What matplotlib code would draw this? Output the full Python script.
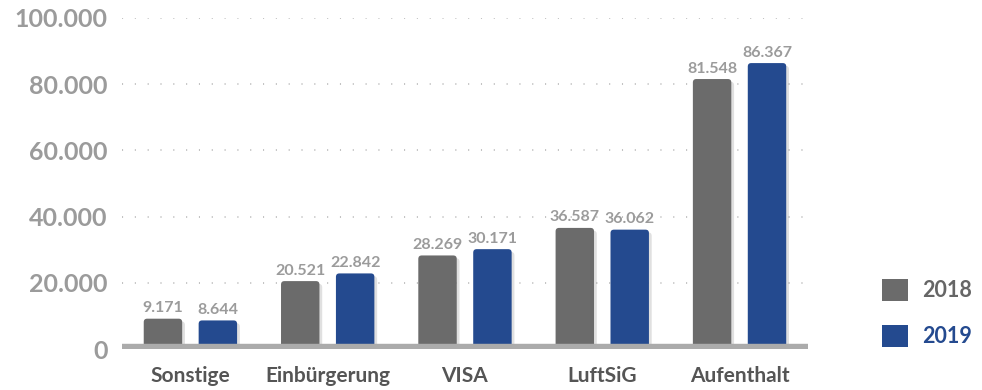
import matplotlib
matplotlib.use("Agg")
import numpy as np
import matplotlib.pyplot as plt
from matplotlib.patches import FancyBboxPatch, Patch
import matplotlib.patheffects as pe

categories = ["Sonstige", "Einbürgerung", "VISA", "LuftSiG", "Aufenthalt"]
values_2018 = [9171, 20521, 28269, 36587, 81548]
values_2019 = [8644, 22842, 30171, 36062, 86367]
years = ["2018", "2019"]
yticks = [0, 20000, 40000, 60000, 80000, 100000]

col_2018 = "#6b6b6b"
col_2019 = "#244a8f"
tick_col = "#9b9b9b"

plt.rcParams["font.family"] = ["Lato", "DejaVu Sans"]

fig = plt.figure(figsize=(9.82, 3.9), dpi=100)
ax = fig.add_axes([0.124, 0.105, 0.699, 0.849])

x = np.arange(len(categories))
w = 0.28
off = 0.2

shadow = [pe.SimplePatchShadow(offset=(2, -2), shadow_rgbFace="#000000", alpha=0.12), pe.Normal()]

# px per data unit, used to keep the corner rounding circular
px_per_x = 0.699 * 982 / 5.0
px_per_y = 0.849 * 390 / 100000.0
aspect = px_per_x / px_per_y

for vals, dx, col in [(values_2018, -off, col_2018), (values_2019, off, col_2019)]:
    bars = ax.bar(x + dx, vals, width=w, color=col)
    for b, v in zip(bars, vals):
        b.set_visible(False)
        rb = FancyBboxPatch((b.get_x(), 0), b.get_width(), b.get_height(),
                            boxstyle="round,pad=0,rounding_size=0.025",
                            mutation_aspect=aspect, fc=col, ec="none", zorder=2)
        rb.set_path_effects(shadow)
        ax.add_patch(rb)
        ax.annotate(f"{v:,}".replace(",", "."), (b.get_x() + b.get_width() / 2, v),
                    xytext=(0, 2.5), textcoords="offset points", ha="center", va="bottom",
                    fontsize=11.5, fontweight="bold", color=tick_col)

# thick base band
ax.axhline(0, color="#ababab", lw=7.5, zorder=3, solid_capstyle="butt")

for t in yticks[1:]:
    ax.axhline(t, color="#bdbdbd", lw=1.3, ls=(0, (0.6, 6.5)), zorder=0)

ax.set_xlim(-0.5, 4.5)
ax.set_ylim(0, 100000)
ax.set_yticks(yticks)
ax.set_yticklabels([f"{t:,}".replace(",", ".") for t in yticks],
                   fontsize=18, fontweight="bold", color=tick_col)
ax.set_xticks(x)
ax.set_xticklabels(categories, fontsize=15, fontweight="bold", color="#555555")
ax.tick_params(axis="y", length=0, pad=10)
ax.tick_params(axis="x", length=0, pad=12)
for s in ax.spines.values():
    s.set_visible(False)

handles = [Patch(fc=col_2018, ec="none"), Patch(fc=col_2019, ec="none")]
leg = ax.legend(handles, years, loc="center left", bbox_to_anchor=(1.08, 0.109),
                frameon=False, prop={"size": 15.5, "weight": "bold"},
                handlelength=1.2, handleheight=1.2, labelspacing=1.1, handletextpad=0.65)
leg.get_texts()[0].set_color("#666666")
leg.get_texts()[1].set_color(col_2019)

fig.savefig("out.png", dpi=100)
